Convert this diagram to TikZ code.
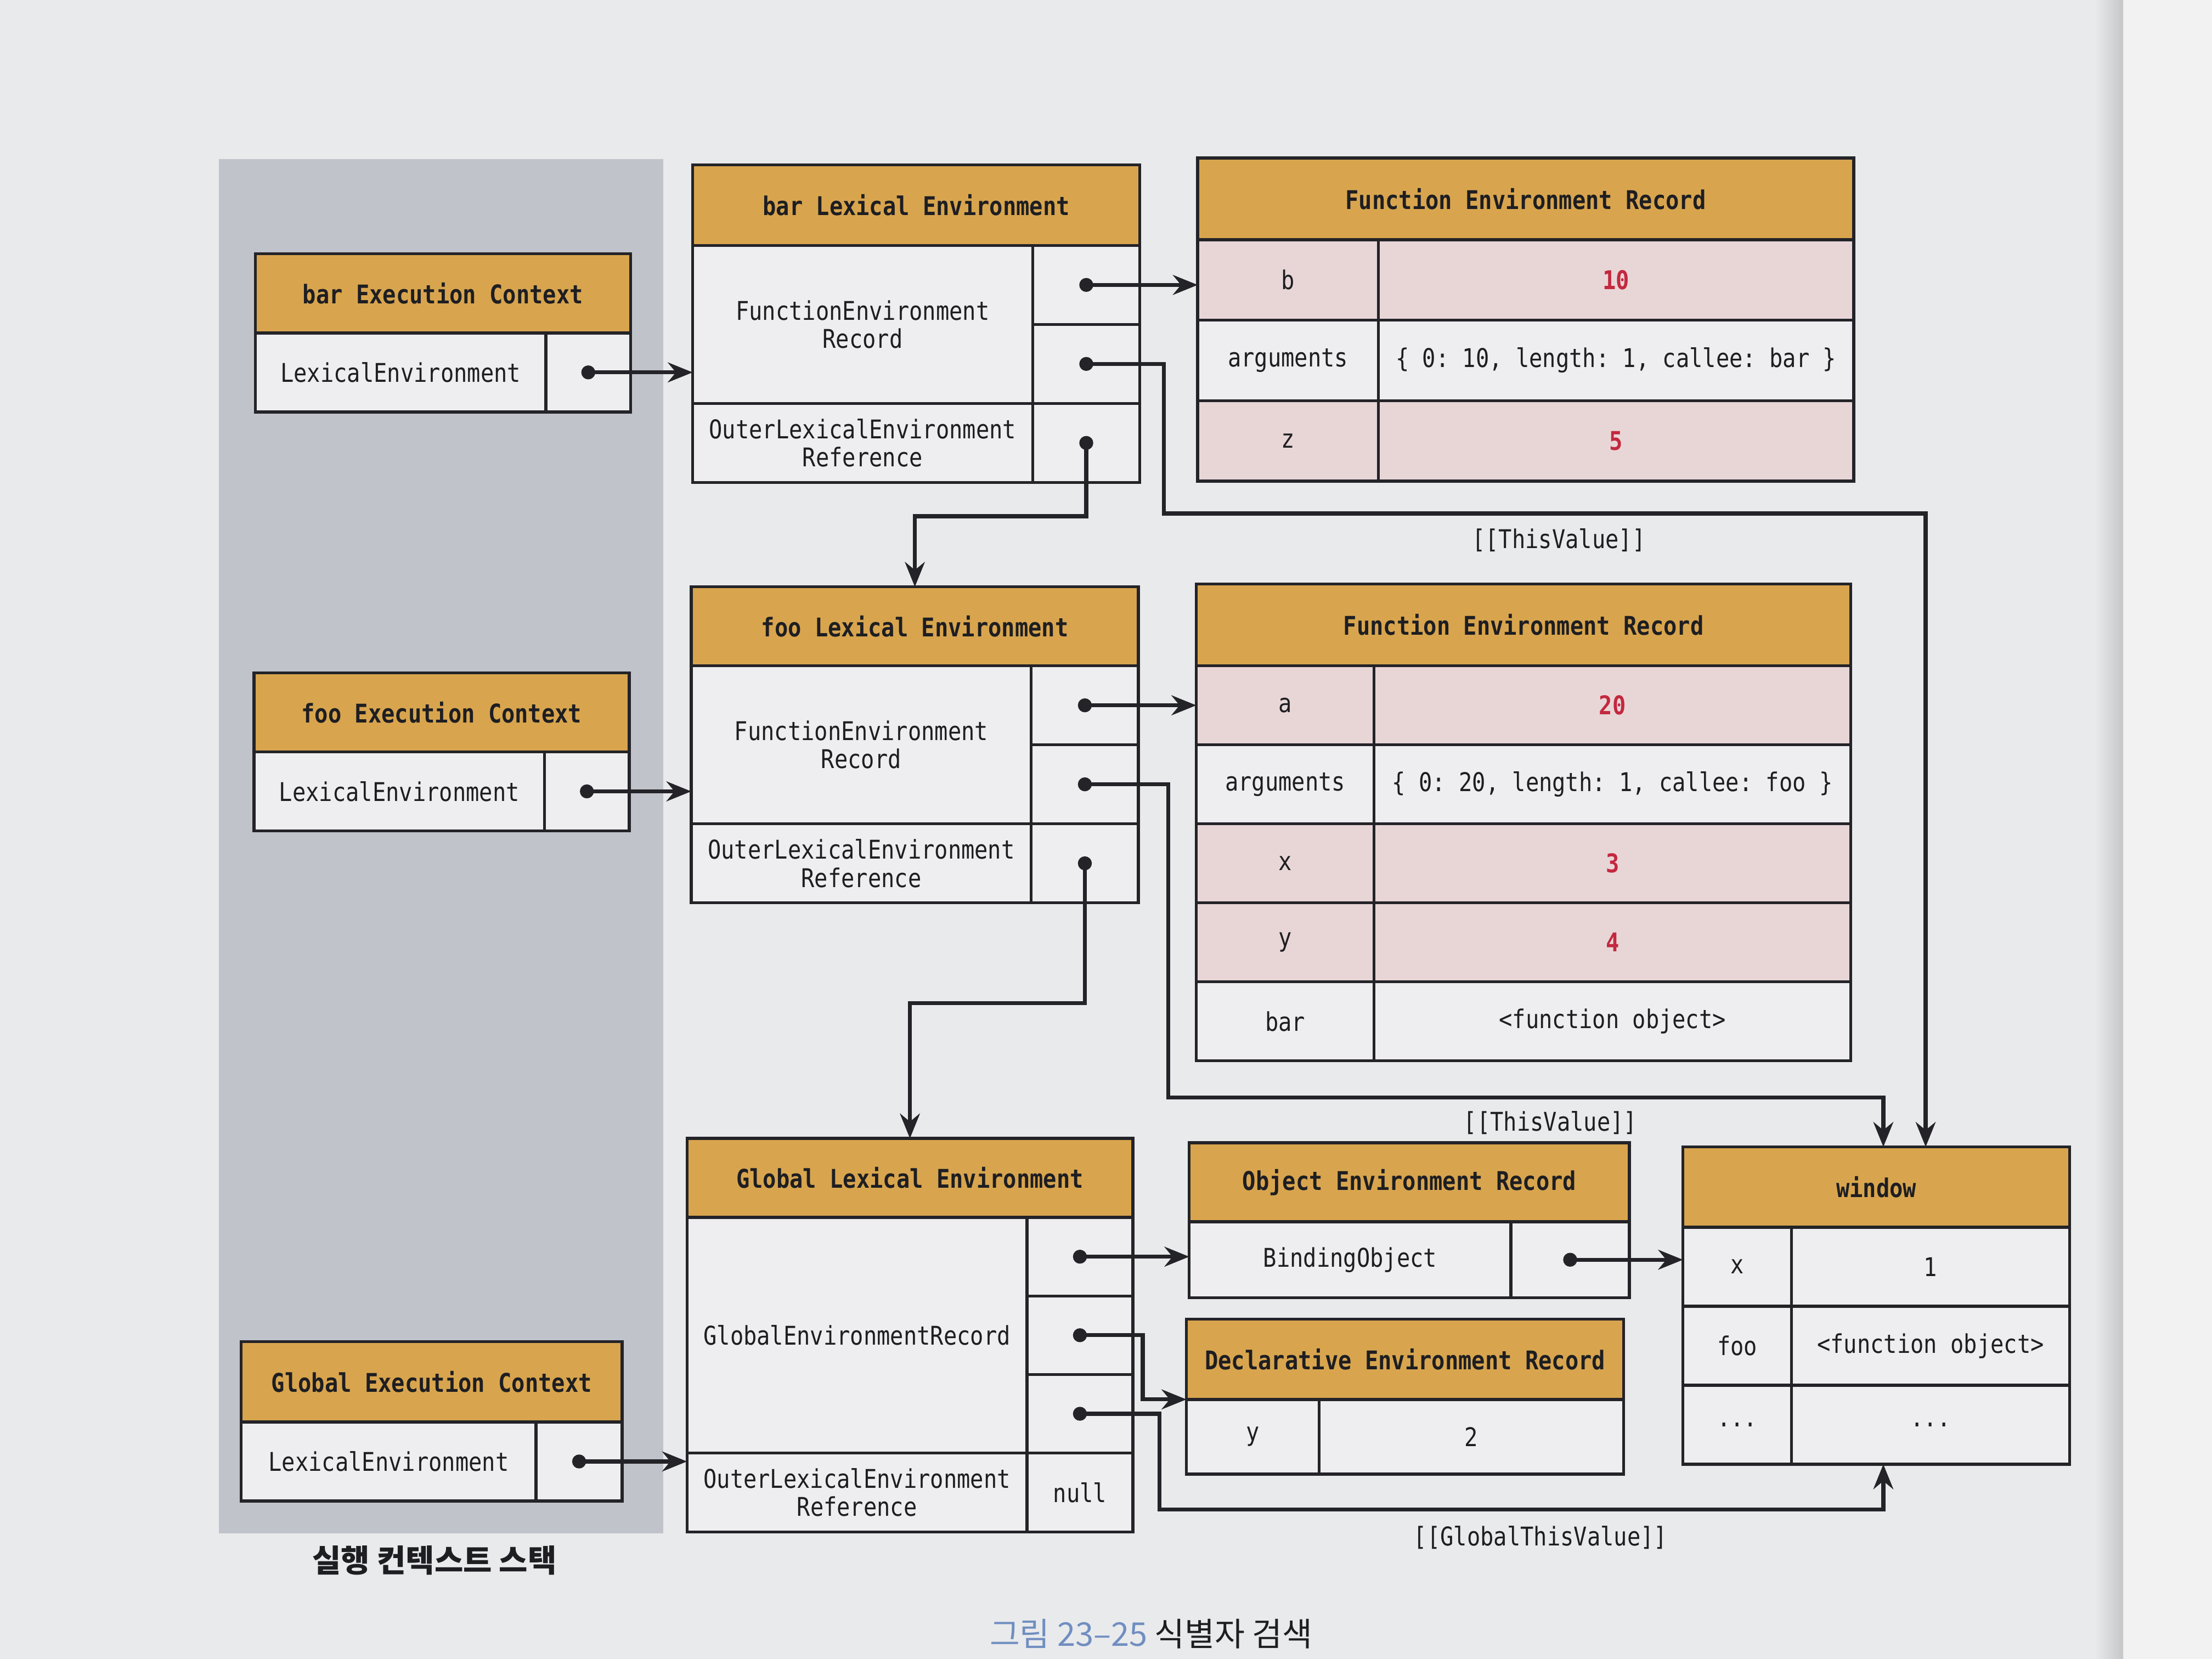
\documentclass[tikz,border=0pt]{standalone}
\usepackage{fontspec}
\setmonofont[FakeStretch=0.86]{DejaVu Sans Mono}
\newfontfamily\kofont{Noto Sans CJK KR}
\usetikzlibrary{arrows.meta,positioning}

\definecolor{paper}{RGB}{233,234,236}
\definecolor{edgepaper}{RGB}{242,242,243}
\definecolor{stackgrey}{RGB}{193,195,203}
\definecolor{gold}{RGB}{216,165,78}
\definecolor{cellw}{RGB}{238,238,240}
\definecolor{pinkc}{RGB}{232,214,215}
\definecolor{valred}{RGB}{196,40,62}
\definecolor{ink}{RGB}{30,30,34}
\definecolor{linec}{RGB}{35,35,40}
\definecolor{capblue}{RGB}{112,142,192}

\begin{document}
\begin{tikzpicture}
  [
    box/.style={
      draw=linec, line width=0.6pt,
      inner sep=0pt, outer sep=0pt,
      align=center, text=ink,
      font=\ttfamily\fontsize{5.2}{5.7}\selectfont
    },
    head/.style={
      box, fill=gold,
      font=\ttfamily\bfseries\fontsize{5.2}{5.7}\selectfont
    },
    cell/.style={
      box, fill=cellw
    },
    pinkcell/.style={
      box, fill=pinkc
    },
    value/.style={
      text=valred,
      font=\ttfamily\bfseries\fontsize{5.2}{5.7}\selectfont
    },
    ptr/.style={
      draw=linec, line width=0.8pt,
      {Circle[length=2.8pt]}-{Stealth[length=5pt,width=4pt]},
      shorten <=-1.4pt
    },
    tag/.style={
      text=ink, font=\ttfamily\fontsize{5.2}{5.7}\selectfont
    }
  ]
\useasboundingbox (0,0) rectangle (15.68,11.76);
\fill [paper] (0,0) rectangle (15.68,11.76);
\fill [edgepaper] (15.05,0) rectangle (15.68,11.76);
\shade [left color=paper, right color=paper!85!black] (14.85,0) rectangle (15.05,11.76);

% Execution context stack
\fill [stackgrey] (1.55,0.89) rectangle (4.70,10.63);
\node (stacklbl) [text=ink, font=\kofont\bfseries\fontsize{6.3}{7.5}\selectfont] at (3.08,0.70) {실행 컨텍스트 스택};

\node (barech) [head, anchor=north west, minimum width=2.66cm, minimum height=0.56cm] at (1.81,9.96) {bar Execution Context};
\node (barecl) [cell, anchor=north west, minimum width=2.06cm, minimum height=0.56cm] at (barech.south west) {LexicalEnvironment};
\node (barecr) [cell, right=0pt of barecl, minimum width=0.60cm, minimum height=0.56cm] {};

\node (fooech) [head, anchor=north west, minimum width=2.66cm, minimum height=0.56cm] at (1.80,6.99) {foo Execution Context};
\node (fooecl) [cell, anchor=north west, minimum width=2.06cm, minimum height=0.56cm] at (fooech.south west) {LexicalEnvironment};
\node (fooecr) [cell, right=0pt of fooecl, minimum width=0.60cm, minimum height=0.56cm] {};

\node (glbech) [head, anchor=north west, minimum width=2.70cm, minimum height=0.57cm] at (1.71,2.25) {Global Execution Context};
\node (glbecl) [cell, anchor=north west, minimum width=2.09cm, minimum height=0.56cm] at (glbech.south west) {LexicalEnvironment};
\node (glbecr) [cell, right=0pt of glbecl, minimum width=0.61cm, minimum height=0.56cm] {};

% bar
\node (barleh) [head, anchor=north west, minimum width=3.17cm, minimum height=0.57cm] at (4.91,10.59) {bar Lexical Environment};
\node (barlefl) [cell, anchor=north west, minimum width=2.41cm, minimum height=1.12cm] at (barleh.south west) {FunctionEnvironment\\Record};
\node (barler1) [cell, anchor=north west, minimum width=0.76cm, minimum height=0.56cm] at (barlefl.north east) {};
\node (barler2) [cell, anchor=north west, minimum width=0.76cm, minimum height=0.56cm] at (barler1.south west) {};
\node (barlel) [cell, anchor=north west, minimum width=2.41cm, minimum height=0.56cm] at (barlefl.south west) {OuterLexicalEnvironment\\Reference};
\node (barlero) [cell, right=0pt of barlel, minimum width=0.76cm, minimum height=0.56cm] {};

\node (barferh) [head, anchor=north west, minimum width=4.65cm, minimum height=0.58cm] at (8.49,10.64) {Function Environment Record};
\node (barferb) [pinkcell, anchor=north west, minimum width=1.28cm, minimum height=0.57cm] at (barferh.south west) {b};
\node (barferbv) [pinkcell, value, right=0pt of barferb, minimum width=3.37cm, minimum height=0.57cm] {10};
\node (barfera) [cell, anchor=north west, minimum width=1.28cm, minimum height=0.57cm] at (barferb.south west) {arguments};
\node (barferav) [cell, right=0pt of barfera, minimum width=3.37cm, minimum height=0.57cm] {\{ 0: 10, length: 1, callee: bar \}};
\node (barferz) [pinkcell, anchor=north west, minimum width=1.28cm, minimum height=0.57cm] at (barfera.south west) {z};
\node (barferzv) [pinkcell, value, right=0pt of barferz, minimum width=3.37cm, minimum height=0.57cm] {5};

% foo
\node (foolh) [head, anchor=north west, minimum width=3.17cm, minimum height=0.56cm] at (4.90,7.60) {foo Lexical Environment};
\node (foolefl) [cell, anchor=north west, minimum width=2.41cm, minimum height=1.12cm] at (foolh.south west) {FunctionEnvironment\\Record};
\node (fooler1) [cell, anchor=north west, minimum width=0.76cm, minimum height=0.56cm] at (foolefl.north east) {};
\node (fooler2) [cell, anchor=north west, minimum width=0.76cm, minimum height=0.56cm] at (fooler1.south west) {};
\node (foolel) [cell, anchor=north west, minimum width=2.41cm, minimum height=0.56cm] at (foolefl.south west) {OuterLexicalEnvironment\\Reference};
\node (foolero) [cell, right=0pt of foolel, minimum width=0.76cm, minimum height=0.56cm] {};

\node (fooferh) [head, anchor=north west, minimum width=4.64cm, minimum height=0.58cm] at (8.48,7.62) {Function Environment Record};
\node (fooferk1) [pinkcell, anchor=north west, minimum width=1.26cm, minimum height=0.56cm] at (fooferh.south west) {a};
\node (fooferv1) [pinkcell, value, right=0pt of fooferk1, minimum width=3.38cm, minimum height=0.56cm] {20};
\node (fooferk2) [cell, anchor=north west, minimum width=1.26cm, minimum height=0.56cm] at (fooferk1.south west) {arguments};
\node (fooferv2) [cell, right=0pt of fooferk2, minimum width=3.38cm, minimum height=0.56cm] {\{ 0: 20, length: 1, callee: foo \}};
\node (fooferk3) [pinkcell, anchor=north west, minimum width=1.26cm, minimum height=0.56cm] at (fooferk2.south west) {x};
\node (fooferv3) [pinkcell, value, right=0pt of fooferk3, minimum width=3.38cm, minimum height=0.56cm] {3};
\node (fooferk4) [pinkcell, anchor=north west, minimum width=1.26cm, minimum height=0.56cm] at (fooferk3.south west) {y};
\node (fooferv4) [pinkcell, value, right=0pt of fooferk4, minimum width=3.38cm, minimum height=0.56cm] {4};
\node (fooferk5) [cell, anchor=north west, minimum width=1.26cm, minimum height=0.56cm] at (fooferk4.south west) {bar};
\node (fooferv5) [cell, right=0pt of fooferk5, minimum width=3.38cm, minimum height=0.56cm] {<function object>};

% global
\node (glblh) [head, anchor=north west, minimum width=3.16cm, minimum height=0.56cm] at (4.87,3.69) {Global Lexical Environment};
\node (glblgl) [cell, anchor=north west, minimum width=2.41cm, minimum height=1.67cm] at (glblh.south west) {GlobalEnvironmentRecord};
\node (glblr1) [cell, anchor=north west, minimum width=0.75cm, minimum height=0.5567cm] at (glblgl.north east) {};
\node (glblr2) [cell, anchor=north west, minimum width=0.75cm, minimum height=0.5567cm] at (glblr1.south west) {};
\node (glblr3) [cell, anchor=north west, minimum width=0.75cm, minimum height=0.5567cm] at (glblr2.south west) {};
\node (glblol) [cell, anchor=north west, minimum width=2.41cm, minimum height=0.56cm] at (glblgl.south west) {OuterLexicalEnvironment\\Reference};
\node (glblor) [cell, right=0pt of glblol, minimum width=0.75cm, minimum height=0.56cm] {null};

\node (objh) [head, anchor=north west, minimum width=3.12cm, minimum height=0.56cm] at (8.43,3.66) {Object Environment Record};
\node (objk) [cell, anchor=north west, minimum width=2.28cm, minimum height=0.54cm] at (objh.south west) {BindingObject};
\node (objp) [cell, right=0pt of objk, minimum width=0.84cm, minimum height=0.54cm] {};

\node (declh) [head, anchor=north west, minimum width=3.10cm, minimum height=0.57cm] at (8.41,2.41) {Declarative Environment Record};
\node (declk) [cell, anchor=north west, minimum width=0.94cm, minimum height=0.53cm] at (declh.south west) {y};
\node (declv) [cell, right=0pt of declk, minimum width=2.16cm, minimum height=0.53cm] {2};

\node (winh) [head, anchor=north west, minimum width=2.74cm, minimum height=0.57cm] at (11.93,3.63) {window};
\node (windk1) [cell, anchor=north west, minimum width=0.77cm, minimum height=0.56cm] at (winh.south west) {x};
\node (windv1) [cell, right=0pt of windk1, minimum width=1.97cm, minimum height=0.56cm] {1};
\node (windk2) [cell, anchor=north west, minimum width=0.77cm, minimum height=0.56cm] at (windk1.south west) {foo};
\node (windv2) [cell, right=0pt of windk2, minimum width=1.97cm, minimum height=0.56cm] {<function object>};
\node (windk3) [cell, anchor=north west, minimum width=0.77cm, minimum height=0.56cm] at (windk2.south west) {...};
\node (windv3) [cell, right=0pt of windk3, minimum width=1.97cm, minimum height=0.56cm] {...};
\coordinate (winin) at ([xshift=0.05cm]winh.north);
\coordinate (winbar) at ([xshift=0.35cm]winh.north);

% pointers
\draw [ptr] (barecr.center) -- (barlefl.west |- barecr.center);
\draw [ptr] (fooecr.center) -- (foolefl.west |- fooecr.center);
\draw [ptr] (glbecr.center) -- (glblol.west |- glbecr.center);

\draw [ptr] (barler1.center) -- (barferb.west |- barler1.center);
\draw [ptr] (barler2.center) -| (8.25,8.12) -| (winbar);
\draw [ptr] (barlero.center) |- ([yshift=0.5cm]foolh.north) -- (foolh.north);

\draw [ptr] (fooler1.center) -- (fooferk1.west |- fooler1.center);
\draw [ptr] (fooler2.center) -| (8.28,3.98) -| (winin);
\draw [ptr] (foolero.center) |- ([yshift=0.96cm]glblh.north) -- (glblh.north);

\draw [ptr] (glblr1.center) -- (objk.west |- glblr1.center);
\draw [ptr] (glblr2.center) -| ([xshift=-0.31cm]declh.south west) -- (declh.south west);
\draw [ptr] (glblr3.center) -| (8.22,1.06) -| (winin |- windk3.south);
\draw [ptr] (objp.center) -- (windk1.west |- objp.center);

\node (barthis) [tag] at (11.05,7.93) {[[ThisValue]]};
\node (foothis) [tag] at (10.99,3.80) {[[ThisValue]]};
\node (glblthis) [tag] at (10.92,0.86) {[[GlobalThisValue]]};

% caption
\node (caption) [text=ink, font=\kofont\fontsize{6.6}{7.8}\selectfont] at (8.16,0.18) {\textcolor{capblue}{그림 23–25} 식별자 검색};

\end{tikzpicture}
\end{document}
